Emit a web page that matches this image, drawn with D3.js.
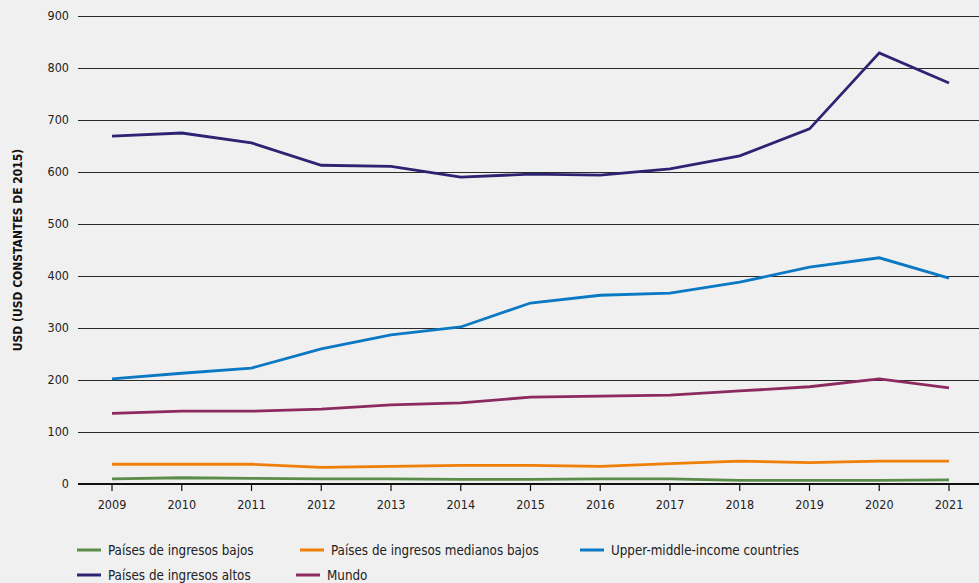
<!DOCTYPE html>
<html><head><meta charset="utf-8">
<script src="https://cdn.jsdelivr.net/npm/d3@7"></script>
<style>
body{margin:0;background:#f0f0f0;}
svg{display:block;font-family:"DejaVu Sans Condensed","Roboto",sans-serif;}
</style></head><body>
<svg id="c" width="979" height="583"></svg>
<script>
const years = [2009,2010,2011,2012,2013,2014,2015,2016,2017,2018,2019,2020,2021];
const seriesNames = ["Países de ingresos bajos","Países de ingresos medianos bajos","Upper-middle-income countries","Países de ingresos altos","Mundo"];
const lowIncome = [10,12,11,10,10,9,9,10,10,7,7,7,8];
const lowerMiddle = [38,38,38,32,34,36,36,34,39,44,41,44,44];
const upperMiddle = [202,213,223,260,287,302,348,363,367,388,417,435,396];
const highIncome = [669,675,656,613,611,590,596,594,606,631,683,829,771];
const world = [136,140,140,144,152,156,167,169,171,179,187,202,185];
const yTicks = [0,100,200,300,400,500,600,700,800,900];
const colors = ["#5b8c4a","#f07f09","#0b78c3","#2c2472","#8c2a5f"];
const yTitle = "USD (USD CONSTANTES DE 2015)";

(function(){
const svg = d3.select("#c");
const pl = 78, pr = 979, pt = 16, pb = 484;
const x = d3.scalePoint().domain(years).range([112, 949]);
const y = d3.scaleLinear().domain([0,900]).range([pb, pt]);

svg.append("g").selectAll("line").data(yTicks.filter(d=>d>0)).join("line")
  .attr("x1", pl).attr("x2", pr).attr("y1", d=>Math.round(y(d))+0.5).attr("y2", d=>Math.round(y(d))+0.5)
  .attr("stroke", "#2a2a2a").attr("stroke-width",1).attr("shape-rendering","crispEdges");
svg.append("g").selectAll("text").data(yTicks).join("text")
  .attr("x", 69).attr("y", d=>y(d)).attr("dy","0.35em").attr("text-anchor","end")
  .attr("font-size",12.5).attr("fill","#222").text(d=>d);

svg.append("text").attr("transform","translate(18,250) rotate(-90)")
  .attr("text-anchor","middle").attr("dy","0.35em").attr("font-size",12).attr("font-weight","bold")
  .attr("fill","#111").text(yTitle);

const data = [lowIncome, lowerMiddle, upperMiddle, highIncome, world];
const line = d3.line().x((d,i)=>x(years[i])).y(d=>y(d));
const order = [4,2,3,1,0];
order.forEach(k=>{
  svg.append("path").datum(data[k]).attr("d", line).attr("fill","none")
    .attr("stroke", colors[k]).attr("stroke-width",2.8).attr("stroke-linejoin","miter");
});

svg.append("line").attr("x1",pl).attr("x2",pr).attr("y1",pb).attr("y2",pb)
  .attr("stroke","#111").attr("stroke-width",2);
const xa = svg.append("g");
xa.selectAll("line").data(years).join("line")
  .attr("x1",d=>x(d)).attr("x2",d=>x(d)).attr("y1",pb).attr("y2",pb+7)
  .attr("stroke","#111").attr("stroke-width",1.2);
xa.selectAll("text").data(years).join("text")
  .attr("x",d=>x(d)).attr("y",pb+21).attr("dy","0.35em").attr("text-anchor","middle")
  .attr("font-size",12.5).attr("fill","#222").text(d=>d);

const legPos = [[77,550],[300,550],[580,550],[77,575],[296,575]];
seriesNames.forEach((n,i)=>{
  const [lx,ly] = legPos[i];
  svg.append("line").attr("x1",lx).attr("x2",lx+24).attr("y1",ly).attr("y2",ly)
    .attr("stroke",colors[i]).attr("stroke-width",3);
  svg.append("text").attr("x",lx+31).attr("y",ly).attr("dy","0.35em")
    .attr("font-size",13.3).attr("fill","#222").text(n);
});
})();
</script>
</body></html>
